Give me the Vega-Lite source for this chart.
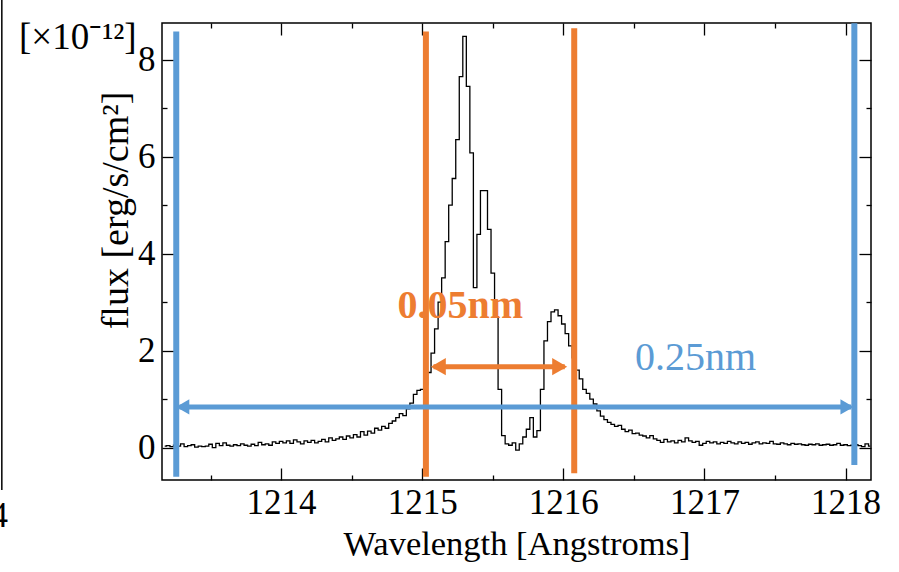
{
  "$schema": "https://vega.github.io/schema/vega-lite/v6.json",
  "width": 709,
  "height": 457,
  "autosize": {"type": "none"},
  "padding": {"left": 162, "top": 23, "right": 28, "bottom": 92},
  "background": "white",
  "config": {
    "view": {"stroke": "#000", "strokeWidth": 1.5},
    "font": "Liberation Serif",
    "axis": {"domain": false, "grid": false, "tickColor": "#000", "tickWidth": 1.3, "labelColor": "#000", "titleColor": "#000", "labelFont": "Liberation Serif", "titleFont": "Liberation Serif", "titleFontWeight": "normal", "labelOverlap": false}
  },
  "title": {"text": "[×10⁻¹²]", "anchor": "start", "frame": "group", "dx": -143, "dy": 90, "offset": 0, "baseline": "alphabetic", "fontSize": 37, "font": "Liberation Serif", "fontWeight": "normal", "color": "#000"},
  "datasets": {
    "spectrum": [
      {"wl": 1213.175, "flux": 0.03}, {"wl": 1213.2, "flux": 0.04}, {"wl": 1213.225, "flux": 0.02}, {"wl": 1213.25, "flux": 0.05},
      {"wl": 1213.275, "flux": 0.03}, {"wl": 1213.3, "flux": 0.08}, {"wl": 1213.325, "flux": 0.02}, {"wl": 1213.35, "flux": 0.04},
      {"wl": 1213.375, "flux": 0.06}, {"wl": 1213.4, "flux": 0.01}, {"wl": 1213.425, "flux": 0.03}, {"wl": 1213.45, "flux": 0.02},
      {"wl": 1213.475, "flux": 0.03}, {"wl": 1213.5, "flux": 0.07}, {"wl": 1213.525, "flux": 0.0}, {"wl": 1213.55, "flux": 0.09},
      {"wl": 1213.575, "flux": 0.04}, {"wl": 1213.6, "flux": 0.1}, {"wl": 1213.625, "flux": 0.05}, {"wl": 1213.65, "flux": 0.03},
      {"wl": 1213.675, "flux": 0.06}, {"wl": 1213.7, "flux": 0.04}, {"wl": 1213.725, "flux": 0.08}, {"wl": 1213.75, "flux": 0.05},
      {"wl": 1213.775, "flux": 0.03}, {"wl": 1213.8, "flux": 0.07}, {"wl": 1213.825, "flux": 0.04}, {"wl": 1213.85, "flux": 0.11},
      {"wl": 1213.875, "flux": 0.06}, {"wl": 1213.9, "flux": 0.08}, {"wl": 1213.925, "flux": 0.05}, {"wl": 1213.95, "flux": 0.12},
      {"wl": 1213.975, "flux": 0.09}, {"wl": 1214.0, "flux": 0.13}, {"wl": 1214.025, "flux": 0.1}, {"wl": 1214.05, "flux": 0.14},
      {"wl": 1214.075, "flux": 0.09}, {"wl": 1214.1, "flux": 0.16}, {"wl": 1214.125, "flux": 0.12}, {"wl": 1214.15, "flux": 0.08},
      {"wl": 1214.175, "flux": 0.14}, {"wl": 1214.2, "flux": 0.11}, {"wl": 1214.225, "flux": 0.15}, {"wl": 1214.25, "flux": 0.1},
      {"wl": 1214.275, "flux": 0.13}, {"wl": 1214.3, "flux": 0.17}, {"wl": 1214.325, "flux": 0.12}, {"wl": 1214.35, "flux": 0.2},
      {"wl": 1214.375, "flux": 0.15}, {"wl": 1214.4, "flux": 0.18}, {"wl": 1214.425, "flux": 0.22}, {"wl": 1214.45, "flux": 0.17},
      {"wl": 1214.475, "flux": 0.24}, {"wl": 1214.5, "flux": 0.2}, {"wl": 1214.525, "flux": 0.27}, {"wl": 1214.55, "flux": 0.22},
      {"wl": 1214.575, "flux": 0.33}, {"wl": 1214.6, "flux": 0.26}, {"wl": 1214.625, "flux": 0.34}, {"wl": 1214.65, "flux": 0.3},
      {"wl": 1214.675, "flux": 0.4}, {"wl": 1214.7, "flux": 0.36}, {"wl": 1214.725, "flux": 0.44}, {"wl": 1214.75, "flux": 0.4},
      {"wl": 1214.775, "flux": 0.5}, {"wl": 1214.8, "flux": 0.55}, {"wl": 1214.825, "flux": 0.62}, {"wl": 1214.85, "flux": 0.7},
      {"wl": 1214.875, "flux": 0.66}, {"wl": 1214.9, "flux": 0.8}, {"wl": 1214.925, "flux": 0.92}, {"wl": 1214.95, "flux": 1.1},
      {"wl": 1214.975, "flux": 1.18}, {"wl": 1215.0, "flux": 1.2}, {"wl": 1215.025, "flux": 1.3}, {"wl": 1215.05, "flux": 1.55},
      {"wl": 1215.075, "flux": 1.95}, {"wl": 1215.1, "flux": 2.45}, {"wl": 1215.125, "flux": 3.0}, {"wl": 1215.15, "flux": 3.5},
      {"wl": 1215.175, "flux": 4.25}, {"wl": 1215.2, "flux": 5.0}, {"wl": 1215.225, "flux": 5.55}, {"wl": 1215.25, "flux": 6.35},
      {"wl": 1215.275, "flux": 7.65}, {"wl": 1215.3, "flux": 8.48}, {"wl": 1215.325, "flux": 7.45}, {"wl": 1215.35, "flux": 6.08},
      {"wl": 1215.375, "flux": 3.3}, {"wl": 1215.4, "flux": 4.4}, {"wl": 1215.425, "flux": 5.3}, {"wl": 1215.45, "flux": 5.3},
      {"wl": 1215.475, "flux": 4.5}, {"wl": 1215.5, "flux": 3.6}, {"wl": 1215.525, "flux": 2.7}, {"wl": 1215.55, "flux": 1.2},
      {"wl": 1215.575, "flux": 0.25}, {"wl": 1215.6, "flux": 0.08}, {"wl": 1215.625, "flux": 0.05}, {"wl": 1215.65, "flux": 0.1},
      {"wl": 1215.675, "flux": -0.05}, {"wl": 1215.7, "flux": 0.08}, {"wl": 1215.725, "flux": 0.22}, {"wl": 1215.75, "flux": 0.38},
      {"wl": 1215.775, "flux": 0.62}, {"wl": 1215.8, "flux": 0.22}, {"wl": 1215.825, "flux": 0.35}, {"wl": 1215.85, "flux": 1.2},
      {"wl": 1215.875, "flux": 2.2}, {"wl": 1215.9, "flux": 2.6}, {"wl": 1215.925, "flux": 2.8}, {"wl": 1215.95, "flux": 2.84},
      {"wl": 1215.975, "flux": 2.72}, {"wl": 1216.0, "flux": 2.55}, {"wl": 1216.025, "flux": 2.35}, {"wl": 1216.05, "flux": 2.1},
      {"wl": 1216.075, "flux": 1.85}, {"wl": 1216.1, "flux": 1.6}, {"wl": 1216.125, "flux": 1.42}, {"wl": 1216.15, "flux": 1.2},
      {"wl": 1216.175, "flux": 1.12}, {"wl": 1216.2, "flux": 1.0}, {"wl": 1216.225, "flux": 0.9}, {"wl": 1216.25, "flux": 0.76},
      {"wl": 1216.275, "flux": 0.65}, {"wl": 1216.3, "flux": 0.58}, {"wl": 1216.325, "flux": 0.52}, {"wl": 1216.35, "flux": 0.48},
      {"wl": 1216.375, "flux": 0.44}, {"wl": 1216.4, "flux": 0.46}, {"wl": 1216.425, "flux": 0.38}, {"wl": 1216.45, "flux": 0.33},
      {"wl": 1216.475, "flux": 0.36}, {"wl": 1216.5, "flux": 0.29}, {"wl": 1216.525, "flux": 0.3}, {"wl": 1216.55, "flux": 0.26},
      {"wl": 1216.575, "flux": 0.24}, {"wl": 1216.6, "flux": 0.2}, {"wl": 1216.625, "flux": 0.25}, {"wl": 1216.65, "flux": 0.18},
      {"wl": 1216.675, "flux": 0.15}, {"wl": 1216.7, "flux": 0.11}, {"wl": 1216.725, "flux": 0.17}, {"wl": 1216.75, "flux": 0.12},
      {"wl": 1216.775, "flux": 0.14}, {"wl": 1216.8, "flux": 0.1}, {"wl": 1216.825, "flux": 0.15}, {"wl": 1216.85, "flux": 0.12},
      {"wl": 1216.875, "flux": 0.2}, {"wl": 1216.9, "flux": 0.14}, {"wl": 1216.925, "flux": 0.11}, {"wl": 1216.95, "flux": 0.13},
      {"wl": 1216.975, "flux": 0.05}, {"wl": 1217.0, "flux": 0.09}, {"wl": 1217.025, "flux": 0.13}, {"wl": 1217.05, "flux": 0.1},
      {"wl": 1217.075, "flux": 0.12}, {"wl": 1217.1, "flux": 0.08}, {"wl": 1217.125, "flux": 0.11}, {"wl": 1217.15, "flux": 0.09},
      {"wl": 1217.175, "flux": 0.13}, {"wl": 1217.2, "flux": 0.1}, {"wl": 1217.225, "flux": 0.08}, {"wl": 1217.25, "flux": 0.12},
      {"wl": 1217.275, "flux": 0.09}, {"wl": 1217.3, "flux": 0.11}, {"wl": 1217.325, "flux": 0.07}, {"wl": 1217.35, "flux": 0.1},
      {"wl": 1217.375, "flux": 0.12}, {"wl": 1217.4, "flux": 0.08}, {"wl": 1217.425, "flux": 0.1}, {"wl": 1217.45, "flux": 0.09},
      {"wl": 1217.475, "flux": 0.13}, {"wl": 1217.5, "flux": 0.08}, {"wl": 1217.525, "flux": 0.07}, {"wl": 1217.55, "flux": 0.1},
      {"wl": 1217.575, "flux": 0.08}, {"wl": 1217.6, "flux": 0.06}, {"wl": 1217.625, "flux": 0.09}, {"wl": 1217.65, "flux": 0.07},
      {"wl": 1217.675, "flux": 0.08}, {"wl": 1217.7, "flux": 0.06}, {"wl": 1217.725, "flux": 0.05}, {"wl": 1217.75, "flux": 0.07},
      {"wl": 1217.775, "flux": 0.06}, {"wl": 1217.8, "flux": 0.08}, {"wl": 1217.825, "flux": 0.05}, {"wl": 1217.85, "flux": 0.06},
      {"wl": 1217.875, "flux": 0.07}, {"wl": 1217.9, "flux": 0.05}, {"wl": 1217.925, "flux": 0.06}, {"wl": 1217.95, "flux": 0.09},
      {"wl": 1217.975, "flux": 0.05}, {"wl": 1218.0, "flux": 0.06}, {"wl": 1218.025, "flux": 0.04}, {"wl": 1218.05, "flux": 0.05},
      {"wl": 1218.075, "flux": 0.06}, {"wl": 1218.1, "flux": 0.04}, {"wl": 1218.125, "flux": 0.02}, {"wl": 1218.15, "flux": 0.08},
      {"wl": 1218.175, "flux": 0.03}
    ],
    "vlines": [
      {"window": "0.25nm", "wl": 1213.257, "top": 8.58, "bottom": -0.6},
      {"window": "0.25nm", "wl": 1218.062, "top": 8.75, "bottom": -0.36},
      {"window": "0.05nm", "wl": 1215.026, "top": 8.58, "bottom": -0.6},
      {"window": "0.05nm", "wl": 1216.077, "top": 8.65, "bottom": -0.53}
    ],
    "shafts": [
      {"window": "0.25nm", "from": 1213.28, "to": 1218.04, "level": 0.84},
      {"window": "0.05nm", "from": 1215.08, "to": 1216.01, "level": 1.67}
    ],
    "heads": [
      {"window": "0.25nm", "wl": 1213.303, "level": 0.84, "dir": "left"},
      {"window": "0.25nm", "wl": 1218.01, "level": 0.84, "dir": "right"},
      {"window": "0.05nm", "wl": 1215.114, "level": 1.67, "dir": "left"},
      {"window": "0.05nm", "wl": 1215.974, "level": 1.67, "dir": "right"}
    ],
    "labels": [
      {"window": "0.05nm", "wl": 1215.27, "level": 2.67},
      {"window": "0.25nm", "wl": 1216.936, "level": 1.6}
    ],
    "neighbour": [
      {"wl": 1212.021, "top": 9.3, "bottom": -0.875, "tick": "4", "tickAt": -1.64, "labelEdge": 1212.064}
    ]
  },
  "layer": [
    {
      "data": {"name": "spectrum"},
      "mark": {"type": "line", "interpolate": "step", "color": "#000", "strokeWidth": 1.3},
      "encoding": {
        "x": {"field": "wl", "type": "quantitative",
          "scale": {"domain": [1213.156, 1218.18], "nice": false, "zero": false},
          "axis": {"orient": "bottom", "values": [1213.5, 1214, 1214.5, 1215, 1215.5, 1216, 1216.5, 1217, 1217.5, 1218],
            "tickSize": {"condition": {"test": "datum.value % 1 === 0", "value": -12}, "value": -5},
            "labelExpr": "datum.value % 1 === 0 ? format(datum.value, 'd') : ''",
            "labelFontSize": 35, "labelBaseline": "alphabetic", "labelPadding": 45, "labelFlush": false, "labelOverlap": false,
            "title": "Wavelength [Angstroms]", "titleFontSize": 34.5, "titleBaseline": "alphabetic", "titleY": 74}},
        "y": {"field": "flux", "type": "quantitative",
          "scale": {"domain": [-0.667, 8.757], "nice": false, "zero": false},
          "axis": {"orient": "left", "values": [0, 1, 2, 3, 4, 5, 6, 7, 8],
            "tickSize": {"condition": {"test": "datum.value % 2 === 0", "value": -12}, "value": -5},
            "labelExpr": "datum.value % 2 === 0 ? datum.label : ''",
            "labelFontSize": 35, "labelBaseline": "middle", "labelPadding": 19, "labelFlush": false, "labelOverlap": false,
            "title": "flux [erg/s/cm²]", "titleFontSize": 38, "titleAngle": -90, "titleAlign": "center", "titleBaseline": "middle", "titleX": -46, "titleY": 187}}
      }
    },
    {
      "data": {"name": "vlines"},
      "mark": {"type": "rule", "strokeWidth": 6, "strokeCap": "butt"},
      "encoding": {
        "x": {"field": "wl", "type": "quantitative", "scale": {"domain": [1213.156, 1218.18], "nice": false, "zero": false},
          "axis": {"orient": "top", "values": [1213.5, 1214, 1214.5, 1215, 1215.5, 1216, 1216.5, 1217, 1217.5, 1218],
            "tickSize": {"condition": {"test": "datum.value % 1 === 0", "value": -12}, "value": -5},
            "labels": false, "title": null}},
        "y": {"field": "top", "type": "quantitative", "scale": {"domain": [-0.667, 8.757], "nice": false, "zero": false},
          "axis": {"orient": "right", "values": [0, 1, 2, 3, 4, 5, 6, 7, 8],
            "tickSize": {"condition": {"test": "datum.value % 2 === 0", "value": -12}, "value": -5},
            "labels": false, "title": null}},
        "y2": {"field": "bottom"},
        "color": {"field": "window", "type": "nominal", "scale": {"domain": ["0.05nm", "0.25nm"], "range": ["#ED7D31", "#5B9BD5"]}, "legend": null}
      }
    },
    {
      "data": {"name": "shafts"},
      "mark": {"type": "rule", "strokeWidth": 5, "strokeCap": "butt"},
      "encoding": {
        "x": {"field": "from", "type": "quantitative", "axis": null},
        "x2": {"field": "to"},
        "y": {"field": "level", "type": "quantitative", "axis": null},
        "color": {"field": "window", "type": "nominal", "legend": null}
      }
    },
    {
      "data": {"name": "heads"},
      "mark": {"type": "point", "filled": true, "opacity": 1, "strokeWidth": 0},
      "encoding": {
        "x": {"field": "wl", "type": "quantitative", "axis": null},
        "y": {"field": "level", "type": "quantitative", "axis": null},
        "shape": {"field": "dir", "type": "nominal", "scale": {"domain": ["left", "right"], "range": ["triangle-left", "triangle-right"]}, "legend": null},
        "size": {"field": "window", "type": "nominal", "scale": {"domain": ["0.05nm", "0.25nm"], "range": [300, 230]}, "legend": null},
        "color": {"field": "window", "type": "nominal", "legend": null}
      }
    },
    {
      "data": {"name": "labels"},
      "transform": [{"filter": "datum.window === '0.05nm'"}],
      "mark": {"type": "text", "font": "Liberation Serif", "fontSize": 40, "fontWeight": "bold", "baseline": "alphabetic", "align": "center"},
      "encoding": {
        "x": {"field": "wl", "type": "quantitative", "axis": null},
        "y": {"field": "level", "type": "quantitative", "axis": null},
        "text": {"field": "window"},
        "color": {"field": "window", "type": "nominal", "legend": null}
      }
    },
    {
      "data": {"name": "labels"},
      "transform": [{"filter": "datum.window === '0.25nm'"}],
      "mark": {"type": "text", "font": "Liberation Serif", "fontSize": 40, "fontWeight": "normal", "baseline": "alphabetic", "align": "center"},
      "encoding": {
        "x": {"field": "wl", "type": "quantitative", "axis": null},
        "y": {"field": "level", "type": "quantitative", "axis": null},
        "text": {"field": "window"},
        "color": {"field": "window", "type": "nominal", "legend": null}
      }
    },
    {
      "data": {"name": "neighbour"},
      "mark": {"type": "rule", "color": "#000", "strokeWidth": 1.5, "clip": false},
      "encoding": {
        "x": {"field": "wl", "type": "quantitative", "axis": null},
        "y": {"field": "top", "type": "quantitative", "axis": null},
        "y2": {"field": "bottom"}
      }
    },
    {
      "data": {"name": "neighbour"},
      "mark": {"type": "text", "font": "Liberation Serif", "fontSize": 35, "baseline": "alphabetic", "align": "right", "color": "#000", "clip": false},
      "encoding": {
        "x": {"field": "labelEdge", "type": "quantitative", "axis": null},
        "y": {"field": "tickAt", "type": "quantitative", "axis": null},
        "text": {"field": "tick"}
      }
    }
  ],
  "resolve": {"axis": {"x": "independent", "y": "independent"}}
}
